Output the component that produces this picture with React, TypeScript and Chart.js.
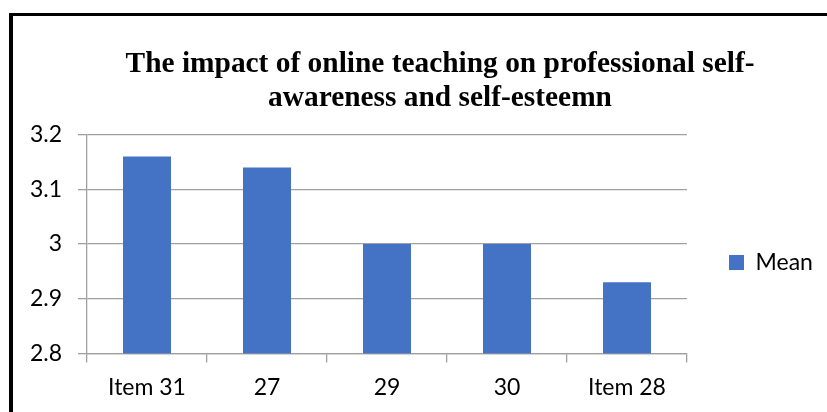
import React, { useEffect, useRef } from 'react';
import { Chart, registerables } from 'chart.js';

Chart.register(...registerables);

const categories = ['Item 31', '27', '29', '30', 'Item 28'];
const meanValues = [3.16, 3.14, 3.0, 3.0, 2.93];
const seriesName = 'Mean';
const yTickValues = [2.8, 2.9, 3.0, 3.1, 3.2];
const yTickLabels = ['2.8', '2.9', '3', '3.1', '3.2'];
const titleLines = ['The impact of online teaching on professional self-', 'awareness and self-esteemn'];

const GRID = '#a0a0a0';

export default function App() {
  const ref = useRef<HTMLCanvasElement>(null);
  useEffect(() => {
    const chart = new Chart(ref.current!, {
      type: 'bar',
      data: {
        labels: categories,
        datasets: [
          {
            label: seriesName,
            data: meanValues,
            backgroundColor: '#4472C4',
            borderWidth: 0,
            categoryPercentage: 1,
            barPercentage: 0.4,
            yAxisID: 'y',
          },
        ],
      },
      options: {
        animation: false,
        responsive: false,
        maintainAspectRatio: false,
        devicePixelRatio: 1,
        font: { family: 'Lato' },
        layout: { padding: { left: 0, right: 0, top: 0, bottom: 0 } },
        plugins: {
          title: {
            display: true,
            text: titleLines,
            color: '#000',
            font: { family: "'Liberation Serif', 'Times New Roman', serif", size: 29.4, weight: 'bold', lineHeight: 1.15 },
            padding: { top: 48, bottom: 19 },
          },
          legend: {
            position: 'right',
            fullSize: false,
            maxWidth: 135,
            labels: {
              boxWidth: 15,
              boxHeight: 15,
              padding: 42,
              color: '#000',
              font: { family: 'Lato', size: 23 },
            },
            title: {
              display: true,
              text: '',
              padding: { top: 27, bottom: 0 },
              font: { size: 10, lineHeight: 1 },
            },
          },
          tooltip: { enabled: false },
        },
        scales: {
          x: {
            grid: { offset: true, drawOnChartArea: false, drawTicks: true, tickLength: 9, color: GRID, lineWidth: 1.3 },
            border: { color: GRID, width: 1.3 },
            ticks: { color: '#000', font: { family: 'Lato', size: 23 }, padding: 11, maxRotation: 0, autoSkip: false },
          },
          y: {
            position: 'left',
            min: 2.8,
            max: 3.2,
            afterBuildTicks: (s: any) => {
              s.ticks = yTickValues.map((v) => ({ value: v }));
            },
            afterFit: (s: any) => {
              s.width = 87;
            },
            grid: { color: GRID, tickLength: 9, lineWidth: 1.3 },
            border: { color: GRID, width: 1.3 },
            ticks: {
              color: '#000',
              font: { family: 'Lato', size: 23 },
              padding: 16,
              callback: (_v: any, i: number) => yTickLabels[i],
            },
          },
          // blank spacer on the far right: the chart box continues past the cropped picture
          spacer: {
            type: 'linear',
            position: 'right',
            weight: 2000,
            display: true,
            grid: { display: false },
            border: { display: false },
            ticks: { display: false },
            afterFit: (s: any) => {
              s.width = 58;
            },
          },
        },
      },
    });
    return () => chart.destroy();
  }, []);

  return (
    <div style={{ position: 'fixed', left: 0, top: 0, width: 827, height: 412, background: '#fff', overflow: 'hidden' }}>
      <canvas ref={ref} width={880} height={412} style={{ position: 'absolute', left: 0, top: 0, width: 880, height: 412 }} />
      <div
        style={{
          position: 'absolute',
          left: 9,
          top: 13,
          width: 840,
          height: 420,
          borderLeft: '4px solid #000',
          borderTop: '3px solid #000',
          pointerEvents: 'none',
        }}
      />
    </div>
  );
}
